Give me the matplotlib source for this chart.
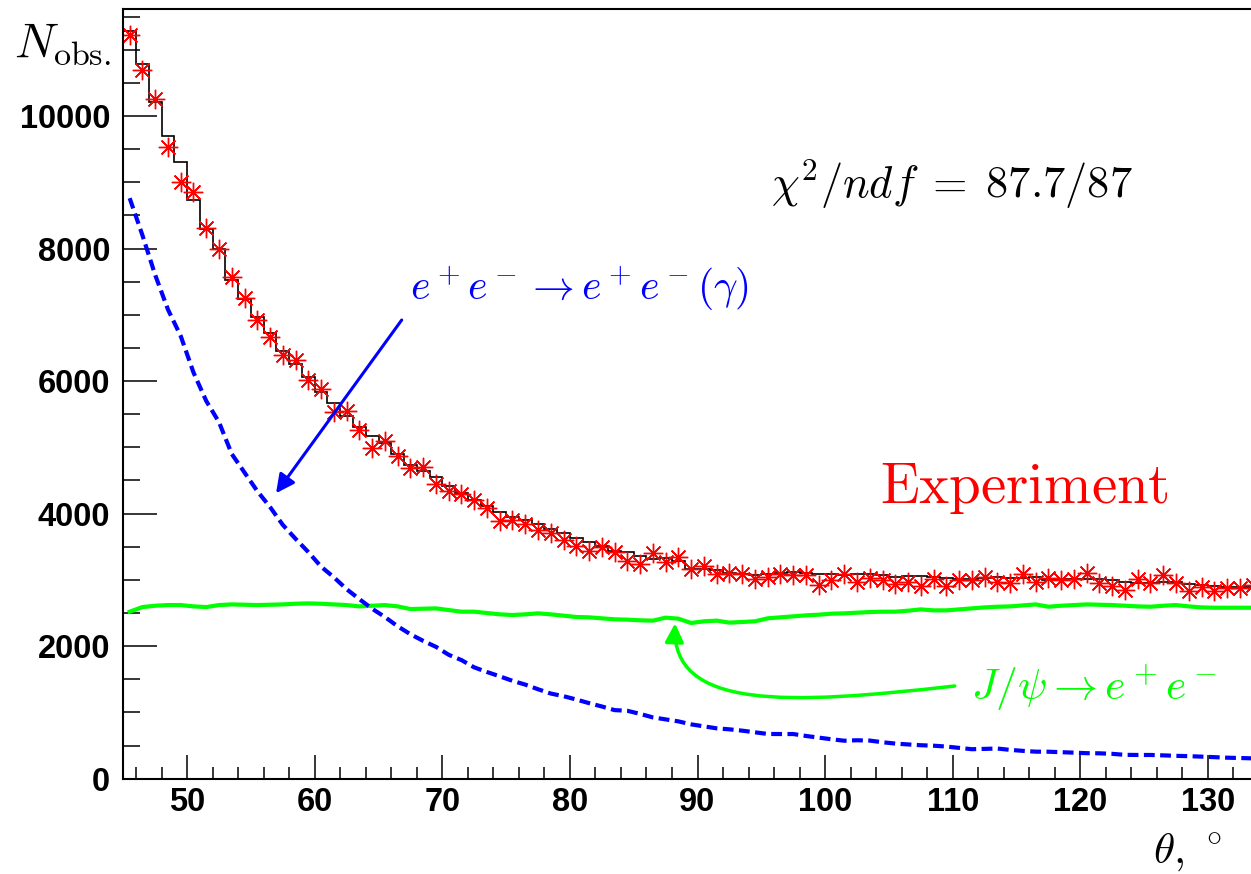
import numpy as np
import matplotlib.pyplot as plt
from matplotlib.patches import FancyArrowPatch
from matplotlib.path import Path
from matplotlib.ticker import MultipleLocator

plt.rcParams['mathtext.fontset'] = 'cm'
plt.rcParams['font.family'] = ['Liberation Sans', 'DejaVu Sans']

# histogram range, 1 degree bins
theta_lo, theta_hi = 45, 135

# observed events per bin (red stars)
n_obs = [
    11222, 10694, 10256, 9528, 9000, 8858, 8314, 7993, 7575, 7249,
    6922, 6670, 6394, 6318, 6016, 5880, 5540, 5553, 5262, 4986,
    5096, 4870, 4693, 4708, 4442, 4346, 4291, 4206, 4080, 3893,
    3904, 3839, 3753, 3710, 3600, 3516, 3440, 3492, 3416, 3290,
    3240, 3401, 3265, 3341, 3160, 3214, 3089, 3109, 3089, 3013,
    3039, 3089, 3074, 3074, 2923, 2998, 3084, 2973, 3024, 2998,
    2933, 2973, 2908, 3009, 2908, 2998, 2998, 3039, 2973, 2948,
    3084, 2973, 3024, 2998, 3009, 3109, 2948, 2908, 2847, 3009,
    2958, 3074, 2948, 2837, 2897, 2837, 2882, 2882, 2923, 2880,
]

# e+e- -> e+e-(gamma) component (blue dashed)
bhabha = [
    8760, 8200, 7600, 7080, 6680, 6130, 5700, 5380, 4900, 4620,
    4340, 4100, 3830, 3620, 3420, 3200, 3040, 2860, 2710, 2565,
    2440, 2300, 2180, 2080, 1990, 1870, 1790, 1680, 1610, 1545,
    1477, 1420, 1350, 1285, 1245, 1195, 1140, 1090, 1035, 1025,
    978, 925, 895, 865, 820, 790, 760, 745, 725, 700,
    675, 674, 674, 645, 620, 595, 573, 580, 575, 550,
    530, 517, 505, 498, 485, 465, 445, 450, 455, 435,
    420, 408, 407, 400, 393, 385, 383, 375, 360, 358,
    358, 352, 345, 340, 333, 325, 317, 312, 307, 300,
]

# J/psi -> e+e- component (green)
jpsi = [
    2520, 2590, 2610, 2620, 2620, 2600, 2590, 2620, 2630, 2625,
    2620, 2625, 2630, 2640, 2645, 2640, 2630, 2620, 2600, 2610,
    2620, 2600, 2560, 2565, 2570, 2545, 2520, 2520, 2500, 2480,
    2470, 2480, 2495, 2480, 2460, 2440, 2435, 2420, 2405, 2400,
    2390, 2385, 2430, 2415, 2350, 2375, 2385, 2355, 2365, 2375,
    2420, 2435, 2450, 2465, 2475, 2490, 2495, 2505, 2515, 2520,
    2520, 2535, 2555, 2540, 2540, 2555, 2570, 2585, 2595, 2600,
    2615, 2630, 2595, 2610, 2620, 2630, 2625, 2620, 2610, 2600,
    2595, 2610, 2620, 2600, 2585, 2580, 2580, 2580, 2580, 2580,
]

edges = np.arange(theta_lo, theta_hi + 1)
centers = edges[:-1] + 0.5
fit = np.array(bhabha) + np.array(jpsi)

W, H = 1251, 874
fig = plt.figure(figsize=(W / 100, H / 100), dpi=100)
ax = fig.add_axes([123.3 / W, 95.3 / H, 1148.4 / W, 769.4 / H])

ax.plot(centers, jpsi, color='#00ff00', lw=3)
ax.plot(centers, bhabha, color='#0000ff', lw=3, linestyle=(0, (2.6, 1.3)))
ax.stairs(fit, edges, color='black', lw=1.2)
ax.plot(centers, n_obs, linestyle='none', marker=(8, 2, 0), markersize=14,
        markeredgewidth=1.0, color='#ff0000')

ax.set_xlim(theta_lo, theta_hi)
ax.set_ylim(0, 11610)
ax.xaxis.set_major_locator(MultipleLocator(10))
ax.xaxis.set_minor_locator(MultipleLocator(2))
ax.yaxis.set_major_locator(MultipleLocator(2000))
ax.yaxis.set_minor_locator(MultipleLocator(500))
ax.tick_params(which='both', direction='in', width=1.1, labelsize=23.5)
ax.tick_params(axis='x', which='major', length=17, pad=6)
ax.tick_params(axis='x', which='minor', length=9)
ax.tick_params(axis='y', which='major', length=24.5, pad=9.4)
ax.tick_params(axis='y', which='minor', length=12.2)
for lab in ax.get_xticklabels() + ax.get_yticklabels():
    lab.set_fontweight('bold')
for sp in ax.spines.values():
    sp.set_linewidth(1.5)

fig.text(14 / W, (H - 57) / H, r'$N_{\rm obs.}$', fontsize=35, va='baseline')
fig.text(1222 / W, (H - 863) / H, r'$\theta,\,^\circ$', fontsize=31,
         ha='right', va='baseline')

ax.text(0.5638, 0.7547, r'$\chi^2/ndf\;=\;87.7/87$', transform=ax.transAxes,
        fontsize=32, va='baseline')
ax.text(0.2497, 0.6222, r'$e^+e^- \to e^+e^-(\gamma)$', transform=ax.transAxes,
        fontsize=30, va='baseline', color='#0000ff')
ax.text(0.659, 0.3583, r'$\mathrm{Experiment}$', transform=ax.transAxes,
        fontsize=41, va='baseline', color='#ff0000')
ax.text(0.7382, 0.1023, r'$J/\psi \to e^+e^-$', transform=ax.transAxes,
        fontsize=31.5, va='baseline', color='#00ff00')

ax.annotate('', xy=(56.97, 4307), xytext=(66.82, 6922),
            arrowprops=dict(arrowstyle='-|>', color='#0000ff', lw=2.2,
                            mutation_scale=28, shrinkA=0, shrinkB=0))

curve = Path([(110.16, 1399), (97.0, 1112), (88.0, 1037), (88.24, 2345)],
             [Path.MOVETO, Path.CURVE4, Path.CURVE4, Path.CURVE4])
ax.add_patch(FancyArrowPatch(path=curve, arrowstyle='-|>', color='#00ff00',
                             lw=2.5, mutation_scale=28))

fig.savefig('out.png', dpi=100)
